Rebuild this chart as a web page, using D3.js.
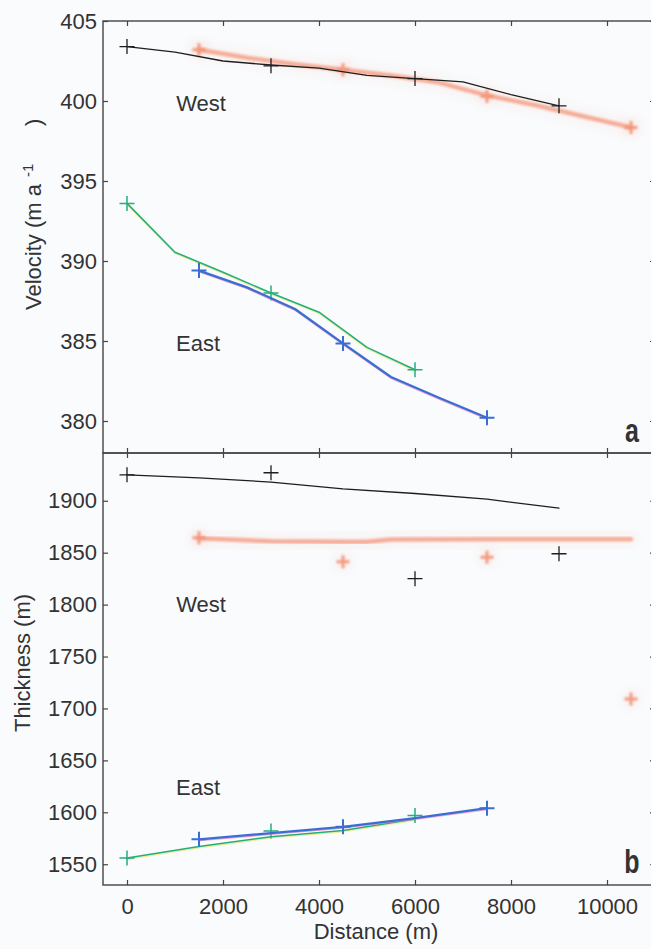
<!DOCTYPE html>
<html>
<head>
<meta charset="utf-8">
<script src="https://cdn.jsdelivr.net/npm/d3@7"></script>
<style>
  body { margin: 0; background: #f9fbfd; }
  svg { display: block; }
  text { font-family: "Liberation Sans", Arial, Helvetica, sans-serif; fill: #333; }
</style>
</head>
<body>
<svg id="chart" width="651" height="949"></svg>
<script>
// ---- axis ticks ----
const distanceTicks = [0, 2000, 4000, 6000, 8000, 10000];
const velocityTicks = [380, 385, 390, 395, 400, 405];
const thicknessTicks = [1550, 1600, 1650, 1700, 1750, 1800, 1850, 1900];

// ---- panel a: velocity (m/a) ----
// West, black profile and its survey points
const velWestBlackLineX = [0, 1000, 2000, 3000, 4000, 5000, 6000, 7000, 8000, 9000];
const velWestBlackLineY = [403.4, 403.05, 402.5, 402.25, 402.05, 401.6, 401.4, 401.2, 400.4, 399.7];
const velWestBlackPtsX = [0, 3000, 6000, 9000];
const velWestBlackPtsY = [403.4, 402.2, 401.4, 399.7];
// West, orange profile and its survey points
const velWestOrangeLineX = [1500, 2500, 3500, 4500, 5500, 6500, 7500, 8500, 9500, 10500];
const velWestOrangeLineY = [403.2, 402.7, 402.3, 401.95, 401.6, 401.15, 400.35, 399.75, 399.05, 398.35];
const velWestOrangePtsX = [1500, 4500, 7500, 10500];
const velWestOrangePtsY = [403.2, 401.95, 400.3, 398.35];
// East, green profile and points
const velEastGreenLineX = [0, 1000, 2000, 3000, 4000, 5000, 6000];
const velEastGreenLineY = [393.6, 390.55, 389.3, 388.0, 386.8, 384.6, 383.2];
const velEastGreenPtsX = [0, 3000, 6000];
const velEastGreenPtsY = [393.6, 388.0, 383.2];
// East, blue profile and points
const velEastBlueLineX = [1500, 2500, 3500, 4500, 5500, 6500, 7500];
const velEastBlueLineY = [389.4, 388.35, 387.0, 384.85, 382.75, 381.45, 380.2];
const velEastBluePtsX = [1500, 4500, 7500];
const velEastBluePtsY = [389.4, 384.85, 380.2];

// ---- panel b: thickness (m) ----
const thkWestBlackLineX = [0, 1500, 3000, 4500, 6000, 7500, 9000];
const thkWestBlackLineY = [1925, 1922, 1918, 1911.5, 1907, 1901.5, 1893];
const thkWestBlackPtsX = [0, 3000, 6000, 9000];
const thkWestBlackPtsY = [1925, 1927, 1825, 1849];
const thkWestOrangeLineX = [1500, 3000, 4500, 5000, 5500, 7500, 9000, 10500];
const thkWestOrangeLineY = [1864, 1861, 1860.5, 1860.5, 1862.8, 1863, 1863, 1863];
const thkWestOrangePtsX = [1500, 4500, 7500, 10500];
const thkWestOrangePtsY = [1864.4, 1841.3, 1845.5, 1709];
const thkEastGreenLineX = [0, 1500, 3000, 4500, 6000];
const thkEastGreenLineY = [1556, 1567, 1576.5, 1582.5, 1593.5];
const thkEastGreenPtsX = [0, 3000, 6000];
const thkEastGreenPtsY = [1556, 1582, 1597];
const thkEastBlueLineX = [1500, 3000, 4500, 6000, 7500];
const thkEastBlueLineY = [1574, 1580, 1586, 1594.5, 1604];
const thkEastBluePtsX = [1500, 4500, 7500];
const thkEastBluePtsY = [1574, 1586, 1604];

// ---- layout ----
const svg = d3.select("#chart");
const W = 651, H = 949;
const plotLeft = 103, plotRight = 655;
const panelATop = 21, panelsSplit = 453, panelBBottom = 885;
const fontPx = "22px";

svg.append("rect").attr("width", W).attr("height", H).attr("fill", "#f9fbfd");

const defs = svg.append("defs");
const soft = defs.append("filter").attr("id", "soft")
  .attr("x", "-10%").attr("y", "-50%").attr("width", "120%").attr("height", "200%");
soft.append("feGaussianBlur").attr("stdDeviation", 1.0);
const haze = defs.append("filter").attr("id", "haze")
  .attr("x", "-20%").attr("y", "-200%").attr("width", "140%").attr("height", "500%");
haze.append("feGaussianBlur").attr("stdDeviation", 5);

const x = d3.scaleLinear().domain([-500, 11000]).range([plotLeft, plotRight]);
const yVel = d3.scaleLinear().domain([378, 405]).range([panelsSplit, panelATop]);
const yThk = d3.scaleLinear().domain([1530, 1946]).range([panelBBottom, panelsSplit]);

const colors = {
  black: "#1e1e1e",
  orange: "#f4957a",
  green: "#26ad7c",
  blue: "#3a6ed4",
  pink: "#f07bb0",
  yellow: "#e9e25a"
};

function zip(xs, ys) { return xs.map((v, i) => [v, ys[i]]); }

function drawFrame(y, ticks, top, bottom, showXLabels) {
  const g = svg.append("g");
  // left axis with labels
  g.append("g").attr("transform", `translate(${plotLeft},0)`)
    .call(d3.axisLeft(y).tickValues(ticks).tickSize(-5).tickPadding(6).tickFormat(d3.format("d")));
  // right axis
  g.append("g").attr("transform", `translate(${plotRight},0)`)
    .call(d3.axisRight(y).tickValues(ticks).tickSize(-5).tickFormat(""));
  // top axis
  g.append("g").attr("transform", `translate(0,${top})`)
    .call(d3.axisTop(x).tickValues(distanceTicks).tickSize(-5).tickFormat(""));
  // bottom axis
  g.append("g").attr("transform", `translate(0,${bottom})`)
    .call(d3.axisBottom(x).tickValues(distanceTicks).tickSize(-5).tickPadding(13)
      .tickFormat(showXLabels ? d3.format("d") : ""));
  g.selectAll(".domain").remove();
  g.selectAll(".tick line").attr("stroke", "#444").attr("stroke-width", 1.2);
  g.selectAll(".tick text").style("font-size", fontPx).attr("fill", "#333");
  g.append("rect")
    .attr("x", plotLeft).attr("y", top)
    .attr("width", plotRight - plotLeft).attr("height", bottom - top)
    .attr("fill", "none").attr("stroke", "#444").attr("stroke-width", 1.4);
}

function plus(g, pts, y, color, size, width, opts = {}) {
  const h = size / 2;
  const path = pts.map(([a, b]) => {
    const px = x(a), py = y(b);
    return `M${px - h},${py}H${px + h}M${px},${py - h}V${py + h}`;
  }).join("");
  const p = g.append("path").attr("d", path).attr("fill", "none")
    .attr("stroke", color).attr("stroke-width", width);
  if (opts.filter) p.attr("filter", opts.filter);
  if (opts.opacity != null) p.attr("opacity", opts.opacity);
}

function line(g, pts, y, color, width, opts = {}) {
  const gen = d3.line().x(d => x(d[0]) + (opts.dx || 0)).y(d => y(d[1]) + (opts.dy || 0));
  const p = g.append("path").datum(pts).attr("d", gen).attr("fill", "none")
    .attr("stroke", color).attr("stroke-width", width)
    .attr("stroke-linejoin", "round").attr("stroke-linecap", "round");
  if (opts.filter) p.attr("filter", opts.filter);
  if (opts.opacity != null) p.attr("opacity", opts.opacity);
}

function drawOrange(g, linePts, dots, y) {
  line(g, linePts, y, colors.orange, 16, { filter: "url(#haze)", opacity: 0.07 });
  line(g, linePts, y, colors.orange, 4.5, { filter: "url(#soft)", opacity: 0.75 });
  plus(g, dots, y, colors.orange, 16, 12, { filter: "url(#haze)", opacity: 0.12 });
  plus(g, dots, y, colors.orange, 13, 3, { filter: "url(#soft)", opacity: 0.95 });
}

function drawEast(g, greenLine, greenDots, blueLine, blueDots, y) {
  line(g, greenLine, y, colors.yellow, 1.4, { dy: 1.2, opacity: 0.6 });
  line(g, greenLine, y, colors.green, 1.6);
  plus(g, greenDots, y, colors.green, 15, 1.5);
  line(g, blueLine, y, colors.pink, 1.4, { dy: 1.3, opacity: 0.7 });
  line(g, blueLine, y, colors.blue, 2.3);
  plus(g, blueDots, y, colors.blue, 15, 2);
}

// ---- panel a ----
drawFrame(yVel, velocityTicks, panelATop, panelsSplit, false);
const ga = svg.append("g");
drawOrange(ga, zip(velWestOrangeLineX, velWestOrangeLineY), zip(velWestOrangePtsX, velWestOrangePtsY), yVel);
line(ga, zip(velWestBlackLineX, velWestBlackLineY), yVel, colors.black, 1.3);
plus(ga, zip(velWestBlackPtsX, velWestBlackPtsY), yVel, colors.black, 15, 1.3);
drawEast(ga,
  zip(velEastGreenLineX, velEastGreenLineY), zip(velEastGreenPtsX, velEastGreenPtsY),
  zip(velEastBlueLineX, velEastBlueLineY), zip(velEastBluePtsX, velEastBluePtsY), yVel);

// ---- panel b ----
drawFrame(yThk, thicknessTicks, panelsSplit, panelBBottom, true);
const gb = svg.append("g");
drawOrange(gb, zip(thkWestOrangeLineX, thkWestOrangeLineY), zip(thkWestOrangePtsX, thkWestOrangePtsY), yThk);
line(gb, zip(thkWestBlackLineX, thkWestBlackLineY), yThk, colors.black, 1.3);
plus(gb, zip(thkWestBlackPtsX, thkWestBlackPtsY), yThk, colors.black, 15, 1.3);
drawEast(gb,
  zip(thkEastGreenLineX, thkEastGreenLineY), zip(thkEastGreenPtsX, thkEastGreenPtsY),
  zip(thkEastBlueLineX, thkEastBlueLineY), zip(thkEastBluePtsX, thkEastBluePtsY), yThk);

// ---- annotations ----
const label = (tx, ty, txt) => svg.append("text").attr("x", tx).attr("y", ty)
  .attr("text-anchor", "middle").style("font-size", fontPx).text(txt);
label(201, 111, "West");
label(198, 351, "East");
label(201, 612, "West");
label(198, 795, "East");

const panelLetter = (tx, ty, txt) => svg.append("text")
  .attr("transform", `translate(${tx},${ty}) scale(1,1.33)`)
  .attr("text-anchor", "middle").style("font-size", "25px").style("font-weight", "bold")
  .attr("fill", "#222").text(txt);
panelLetter(632, 442, "a");
panelLetter(632, 873, "b");

svg.append("text").attr("x", 376).attr("y", 939).attr("text-anchor", "middle")
  .style("font-size", fontPx).text("Distance (m)");

// rotated velocity label, written bottom-up
const vLab = svg.append("text")
  .attr("transform", "translate(41,310) rotate(-90)")
  .attr("text-anchor", "start").style("font-size", fontPx);
vLab.append("tspan").attr("x", 0).text("Velocity (m a");
vLab.append("tspan").attr("dx", 7).attr("dy", -8).style("font-size", "15px").text("-1");
vLab.append("tspan").attr("x", 184).attr("dy", 8).text(")");

svg.append("text")
  .attr("transform", "translate(30,663) rotate(-90)")
  .attr("text-anchor", "middle").style("font-size", fontPx).text("Thickness (m)");
</script>
</body>
</html>
